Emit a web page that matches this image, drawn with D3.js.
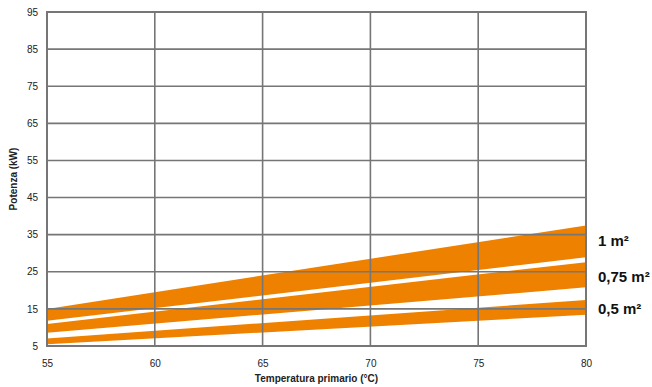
<!DOCTYPE html>
<html><head><meta charset="utf-8">
<script src="https://cdn.jsdelivr.net/npm/d3@7"></script>
<style>body{margin:0;background:#fff;} text{font-family:"Liberation Sans",Arial,sans-serif;}</style>
</head><body><svg id="c" width="652" height="387"></svg>
<script>
const xTicks = [55, 60, 65, 70, 75, 80];
const yTicks = [5, 15, 25, 35, 45, 55, 65, 75, 85, 95];
const bandNames = ["1 m²", "0,75 m²", "0,5 m²"];
const bandX = [55, 80];
const bandHigh = [[15.0, 37.5], [10.9, 27.6], [7.0, 17.4]];
const bandLow = [[11.8, 28.9], [8.6, 20.8], [5.5, 13.4]];
const xTitle = "Temperatura primario (°C)";
const yTitle = "Potenza (kW)";

const svg = d3.select("#c");
const L = 47, R = 586, T = 12, B = 346;
const x = d3.scaleLinear().domain([55, 80]).range([L, R]);
const y = d3.scaleLinear().domain([5, 95]).range([B, T]);
const grey = "#767676";

// bands
const area = d3.area().x((d, i) => x(bandX[i])).y0(d => y(d[0])).y1(d => y(d[1]));
bandHigh.forEach((hi, k) => {
  const pts = hi.map((h, i) => [bandLow[k][i], h]);
  svg.append("path").attr("d", area(pts)).attr("fill", "#EE8100");
});

// grid
const g = svg.append("g");
g.selectAll(".hl").data(yTicks).enter().append("line")
  .attr("x1", L).attr("x2", R).attr("y1", d => y(d)).attr("y2", d => y(d))
  .attr("stroke", grey).attr("stroke-width", 1.6);
g.selectAll(".vl").data(xTicks).enter().append("line")
  .attr("y1", T).attr("y2", B).attr("x1", d => x(d)).attr("x2", d => x(d))
  .attr("stroke", grey).attr("stroke-width", 1.6);
g.append("rect").attr("x", L).attr("y", T).attr("width", R - L).attr("height", B - T)
  .attr("fill", "none").attr("stroke", grey).attr("stroke-width", 2);

// axes (labels only)
const xa = svg.append("g").attr("transform", `translate(0,${B})`)
  .call(d3.axisBottom(x).tickValues(xTicks).tickSize(0).tickPadding(14).tickFormat(d3.format("d")));
xa.select(".domain").remove();
xa.selectAll("text").attr("font-size", 10).attr("fill", "#222").style("font-family", "Liberation Sans, Arial, sans-serif");
const ya = svg.append("g").attr("transform", `translate(${L},0)`)
  .call(d3.axisLeft(y).tickValues(yTicks).tickSize(0).tickPadding(9).tickFormat(d3.format("d")));
ya.select(".domain").remove();
ya.selectAll("text").attr("font-size", 10).attr("fill", "#222").style("font-family", "Liberation Sans, Arial, sans-serif");

svg.append("text").attr("x", (L + R) / 2).attr("y", 382).attr("text-anchor", "middle")
  .attr("font-size", 10).attr("font-weight", "bold").attr("fill", "#222").text(xTitle);
svg.append("text").attr("transform", `translate(17,${(T + B) / 2}) rotate(-90)`).attr("text-anchor", "middle")
  .attr("font-size", 10).attr("font-weight", "bold").attr("fill", "#222").text(yTitle);

// band labels
const labelY = [246, 282, 314];
bandNames.forEach((n, i) => {
  svg.append("text").attr("x", 598).attr("y", labelY[i]).attr("font-size", 15)
    .attr("font-weight", "bold").attr("fill", "#111").text(n);
});
</script></body></html>
